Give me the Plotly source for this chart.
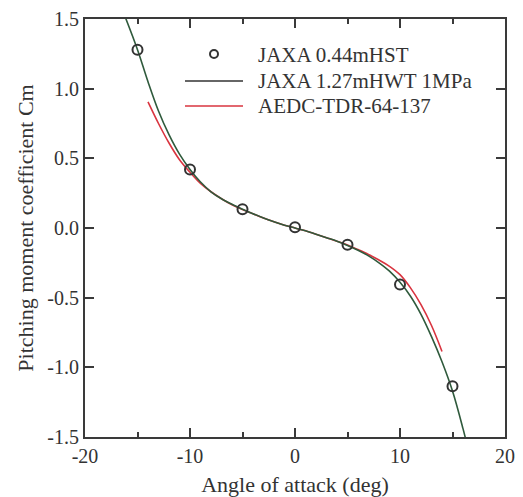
import plotly.graph_objects as go

# Wind-tunnel measurements (open circles)
hst_alpha = [-15, -10, -5, 0, 5, 10, 15]
hst_cm = [1.28, 0.42, 0.135, 0.005, -0.12, -0.405, -1.135]

# JAXA 1.27m HWT 1 MPa curve
hwt_alpha = [-16.2, -15, -14, -13, -12, -11, -10, -9, -8, -7, -6, -5, -4, -3, -2, -1, 0,
             1, 2, 3, 4, 5, 6, 7, 8, 9, 10, 11, 12, 13, 14, 15, 16, 16.4]
hwt_cm = [1.52, 1.28, 1.05, 0.84, 0.67, 0.53, 0.42, 0.33, 0.26, 0.21, 0.17, 0.135,
          0.102, 0.072, 0.045, 0.02, 0.0,
          -0.02, -0.045, -0.07, -0.095, -0.125, -0.16, -0.20, -0.25, -0.31, -0.39,
          -0.49, -0.62, -0.78, -0.96, -1.17, -1.44, -1.56]

# AEDC-TDR-64-137 reference curve
aedc_alpha = [-14, -13, -12, -11, -10, -9, -8, -7, -6, -5, -4, -3, -2, -1, 0,
              1, 2, 3, 4, 5, 6, 7, 8, 9, 10, 11, 12, 13, 14]
aedc_cm = [0.905, 0.75, 0.61, 0.49, 0.40, 0.32, 0.26, 0.21, 0.167, 0.133,
           0.102, 0.072, 0.045, 0.02, 0.0,
           -0.02, -0.045, -0.07, -0.095, -0.122, -0.155, -0.19, -0.23, -0.275, -0.335,
           -0.43, -0.55, -0.70, -0.886]

x_ticks = [-20, -10, 0, 10, 20]
x_ticktext = ["-20", "-10", "0", "10", "20"]
y_ticks = [-1.5, -1.0, -0.5, 0.0, 0.5, 1.0, 1.5]
y_ticktext = ["-1.5", "-1.0", "-0.5", "0.0", "0.5", "1.0", "1.5"]

legend_labels = ["JAXA 0.44mHST", "JAXA 1.27mHWT 1MPa", "AEDC-TDR-64-137"]

FONT = "Liberation Serif"
AXIS = "#3a3a3a"
TEXT = "#333333"
GREEN = "#2f5a3c"
RED = "#d9343f"
W, H = 523, 497
L, R, T, B = 85, 18, 19, 60
PW, PH = W - L - R, H - T - B


def px(xp):
    return (xp - L) / PW


def py(yp):
    return 1 - (yp - T) / PH


fig = go.Figure()
fig.add_trace(go.Scatter(x=aedc_alpha, y=aedc_cm, mode="lines",
                         line=dict(color=RED, width=1.6, shape="spline", smoothing=1.0),
                         showlegend=False))
fig.add_trace(go.Scatter(x=hwt_alpha, y=hwt_cm, mode="lines",
                         line=dict(color=GREEN, width=1.6, shape="spline", smoothing=1.0),
                         showlegend=False))
fig.add_trace(go.Scatter(x=hst_alpha, y=hst_cm, mode="markers",
                         marker=dict(symbol="circle-open", size=10, color=TEXT,
                                     line=dict(width=2, color=TEXT)),
                         showlegend=False))

# Hand-built legend: marker / line samples and labels
shapes = [
    dict(type="circle", xref="paper", yref="paper",
         x0=px(210), x1=px(218), y0=py(58), y1=py(50),
         line=dict(color=TEXT, width=2)),
    dict(type="line", xref="paper", yref="paper",
         x0=px(185), x1=px(243), y0=py(81), y1=py(81),
         line=dict(color=TEXT, width=1.5)),
    dict(type="line", xref="paper", yref="paper",
         x0=px(185), x1=px(243), y0=py(106), y1=py(106),
         line=dict(color=RED, width=1.5)),
]
annotations = []
for label, yp in zip(legend_labels, [55, 81, 106]):
    annotations.append(dict(text=label, xref="paper", yref="paper",
                            x=px(256), y=py(yp), xanchor="left", yanchor="middle",
                            showarrow=False,
                            font=dict(family=FONT, size=21, color=TEXT)))

fig.update_layout(
    width=W, height=H,
    margin=dict(l=L, r=R, t=T, b=B),
    paper_bgcolor="white", plot_bgcolor="white",
    font=dict(family=FONT, size=20, color=TEXT),
    shapes=shapes, annotations=annotations,
    showlegend=False,
)
fig.update_xaxes(
    range=[-20, 20], tickmode="array", tickvals=x_ticks, ticktext=x_ticktext,
    ticks="inside", ticklen=9, tickwidth=1.5, tickcolor=AXIS,
    minor=dict(tickmode="array", tickvals=[-15, -5, 5, 15], ticks="inside",
               ticklen=5, tickwidth=1.5, tickcolor=AXIS, showgrid=False),
    showline=True, linecolor=AXIS, linewidth=2, mirror="ticks",
    showgrid=False, zeroline=False, automargin=False,
    tickfont=dict(family=FONT, size=20, color=TEXT),
    title=dict(text="Angle of attack (deg)", standoff=14,
               font=dict(family=FONT, size=22, color=TEXT)),
)
fig.update_yaxes(
    range=[-1.5, 1.5], tickmode="array", tickvals=y_ticks, ticktext=y_ticktext,
    ticks="inside", ticklen=9, tickwidth=1.5, tickcolor=AXIS,
    showline=True, linecolor=AXIS, linewidth=2, mirror="ticks",
    showgrid=False, zeroline=False, automargin=False,
    tickfont=dict(family=FONT, size=20, color=TEXT),
    title=dict(text="Pitching moment coefficient Cm", standoff=8,
               font=dict(family=FONT, size=22, color=TEXT)),
)

fig.write_html("out.html")
